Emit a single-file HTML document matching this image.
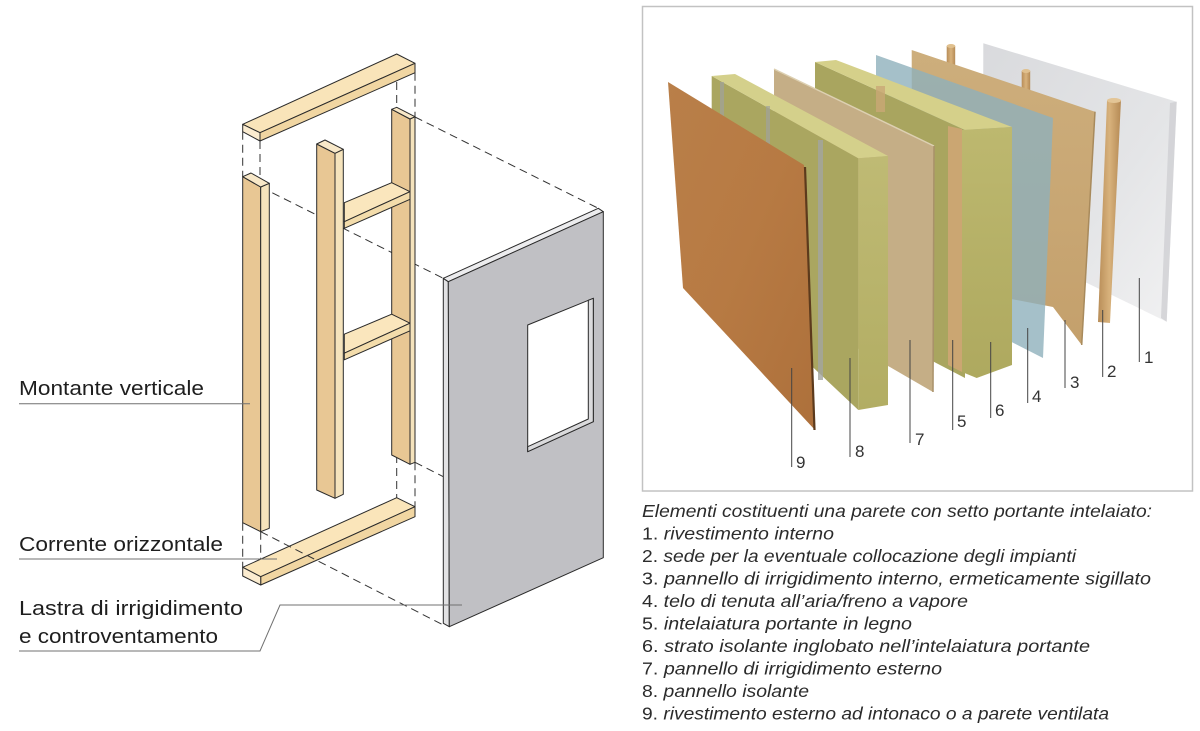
<!DOCTYPE html>
<html>
<head>
<meta charset="utf-8">
<style>
html,body{margin:0;padding:0;background:#fff;}
svg{display:block;}
</style>
</head>
<body>
<svg width="1200" height="731" viewBox="0 0 1200 731" xmlns="http://www.w3.org/2000/svg">
<defs>
<linearGradient id="brown" x1="0" y1="0" x2="1" y2="1">
<stop offset="0" stop-color="#b97f49"/>
<stop offset="0.5" stop-color="#b77a43"/>
<stop offset="1" stop-color="#ad703b"/>
</linearGradient>
<linearGradient id="ins8" x1="0" y1="0" x2="0" y2="1">
<stop offset="0" stop-color="#bfba74"/>
<stop offset="1" stop-color="#b2ad63"/>
</linearGradient>
<linearGradient id="ins6" x1="0" y1="0" x2="0" y2="1">
<stop offset="0" stop-color="#bdb86f"/>
<stop offset="1" stop-color="#aea95f"/>
</linearGradient>
<linearGradient id="gyp" x1="0" y1="0" x2="1" y2="1">
<stop offset="0" stop-color="#d9dadd"/>
<stop offset="0.6" stop-color="#e4e5e7"/>
<stop offset="1" stop-color="#f1f1f2"/>
</linearGradient>
<linearGradient id="osb3" x1="0" y1="0" x2="0" y2="1">
<stop offset="0" stop-color="#cdae7c"/>
<stop offset="1" stop-color="#c4a06c"/>
</linearGradient>
<linearGradient id="post" x1="0" y1="0" x2="1" y2="0">
<stop offset="0" stop-color="#b88d58"/>
<stop offset="0.5" stop-color="#d8b27c"/>
<stop offset="1" stop-color="#b58a55"/>
</linearGradient>
</defs>
<rect width="1200" height="731" fill="#fff"/>

<!-- ================= LEFT DIAGRAM ================= -->
<!-- dashed construction lines (behind) -->
<g stroke="#333" stroke-width="1" stroke-dasharray="8 5" fill="none">
<line x1="242.7" y1="131.7" x2="242.7" y2="176.7"/>
<line x1="260" y1="141" x2="260" y2="187"/>
<line x1="396.7" y1="56" x2="396.7" y2="107.3"/>
<line x1="415" y1="72.7" x2="415" y2="116.7"/>
<line x1="415" y1="117" x2="598.3" y2="208.3"/>
<line x1="260.7" y1="187" x2="443.3" y2="278.3"/>
<line x1="396.7" y1="455" x2="396.7" y2="497.7"/>
<line x1="415" y1="462.3" x2="415" y2="506.7"/>
<line x1="415" y1="462.3" x2="443.3" y2="476.7"/>
<line x1="242.7" y1="522.7" x2="242.7" y2="567.3"/>
<line x1="260.7" y1="531.7" x2="260.7" y2="576.7"/>
</g>

<g stroke="#2a2a2a" stroke-width="1" stroke-linejoin="round">
<!-- top plate -->
<polygon points="242.7,124.3 396.7,54 415,63.3 260,132.7" fill="#f9e4b9"/>
<polygon points="260,132.7 415,63.3 415,72.7 260,141" fill="#f1d6a2"/>
<polygon points="242.7,124.3 260,132.7 260,141 242.7,131.7" fill="#fbecd0"/>

<!-- left stud -->
<polygon points="242.7,176.7 260.7,187 260.7,531.7 242.7,522.7" fill="#e8c794"/>
<polygon points="260.7,187 269.3,183.3 269.3,528.3 260.7,531.7" fill="#f5e3bc"/>
<polygon points="242.7,176.7 251,173 269.3,183.3 260.7,187" fill="#f8e8c8"/>

<!-- right stud -->
<polygon points="391.7,109.3 410,119 410,464.3 391.7,455" fill="#e8c794"/>
<polygon points="410,119 415,116.7 415,462.3 410,464.3" fill="#f5e3bc"/>
<polygon points="391.7,109.3 396.7,107.3 415,116.7 410,119" fill="#f8e8c8"/>

<!-- crossbars -->
<polygon points="344.3,202.7 391.7,182.7 410,191.7 344.3,221.7" fill="#fae6bd"/>
<polygon points="344.3,221.7 410,191.7 410,199.3 344.3,228.3" fill="#f3dcab"/>
<polygon points="344.3,334.2 391.7,314.2 410,323.2 344.3,353.2" fill="#fae6bd"/>
<polygon points="344.3,353.2 410,323.2 410,330.8 344.3,359.8" fill="#f3dcab"/>

<!-- middle stud -->
<polygon points="316.7,144 335,153.3 335,498.3 316.7,490" fill="#e8c794"/>
<polygon points="335,153.3 343.3,149.3 343.3,494.3 335,498.3" fill="#f5e3bc"/>
<polygon points="316.7,144 325,140 343.3,149.3 335,153.3" fill="#f8e8c8"/>

<!-- bottom plate -->
<polygon points="242.7,567.3 396.7,497.7 415,506.7 260.7,576.7" fill="#fae5ba"/>
<polygon points="260.7,576.7 415,506.7 415,516.7 260.7,585" fill="#f1d6a2"/>
<polygon points="242.7,567.3 260.7,576.7 260.7,585 242.7,576" fill="#fbecd0"/>
</g>

<line x1="260.7" y1="531.7" x2="443.3" y2="625" stroke="#333" stroke-width="1" stroke-dasharray="8 5"/>

<!-- panel -->
<g stroke="#2a2a2a" stroke-width="1" stroke-linejoin="round">
<polygon points="443.3,278.3 448.3,281.7 449.3,626.7 443.3,623.3" fill="#e2e2e4"/>
<polygon points="443.3,278.3 598.3,208.3 603.3,211.7 448.3,281.7" fill="#ececee"/>
<polygon points="448.3,281.7 603.3,211.7 603.3,557.7 449.3,626.7" fill="#c0c0c4"/>
<polygon points="527.7,325 593.3,298.3 593.3,421.7 527.7,451.7" fill="#ffffff"/>
<polygon points="527.7,446.7 588.3,419 588.3,300.3 593.3,298.3 593.3,421.7 527.7,451.7" fill="#dadadc"/>
</g>

<!-- leader lines -->
<g stroke="#707070" stroke-width="1" fill="none">
<line x1="19" y1="403.7" x2="250" y2="403.7"/>
<line x1="19" y1="559" x2="277" y2="559"/>
<polyline points="19,651 260,651 280,605 462,605"/>
</g>

<g font-family="'Liberation Sans', sans-serif" font-size="20" fill="#1e1e1e">
<text x="19" y="395" textLength="185" lengthAdjust="spacingAndGlyphs">Montante verticale</text>
<text x="19" y="551" textLength="204" lengthAdjust="spacingAndGlyphs">Corrente orizzontale</text>
<text x="19" y="615" textLength="224" lengthAdjust="spacingAndGlyphs">Lastra di irrigidimento</text>
<text x="19" y="643" textLength="199" lengthAdjust="spacingAndGlyphs">e controventamento</text>
</g>

<!-- ================= RIGHT PHOTO ================= -->
<rect x="642.5" y="6.5" width="550" height="484.5" fill="#fff" stroke="#c2c2c2" stroke-width="1.5"/>

<!-- layer 1 gypsum -->
<polygon points="983.3,43.3 1176.7,101.7 1166.7,321.7 1087,283 983,250" fill="url(#gyp)"/>
<polygon points="1170,103 1176.7,101.7 1166.7,321.7 1161,318" fill="#cfd0d3" opacity="0.8"/>

<!-- dowels -->
<rect x="946.7" y="46" width="8.5" height="22" fill="url(#post)"/>
<ellipse cx="951" cy="46" rx="4.3" ry="2" fill="#e0c08e"/>
<rect x="1021.7" y="71" width="8.5" height="22" fill="url(#post)"/>
<ellipse cx="1026" cy="71" rx="4.3" ry="2" fill="#e0c08e"/>

<!-- layer 2 post -->
<polygon points="1107,101 1121,100 1110,323 1098,322" fill="url(#post)"/>
<ellipse cx="1114" cy="100.5" rx="7" ry="2.5" fill="#e3c596"/>

<!-- layer 3 OSB -->
<polygon points="911.7,50 1095,111.7 1081.7,345 1053,307 912,280" fill="url(#osb3)"/>
<line x1="1095" y1="111.7" x2="1081.7" y2="345" stroke="#a88a5c" stroke-width="1.5"/>

<!-- layer 4 membrane -->
<polygon points="876,55 1053,118 1043,358 876,273" fill="#8fb0bb" opacity="0.8"/>

<!-- layer 6 insulation slab + stud 5 -->
<polygon points="815,62 965,130 965,378 815,300" fill="#a9a55f"/>
<polygon points="815,62 836,60 1012,127 965,130" fill="#d5d08a"/>
<polygon points="962,130 1012,127 1012,365 976.7,378 962,372" fill="url(#ins6)"/>
<polygon points="948,126 962,129 962,372 948,365" fill="#cba672"/>
<rect x="876" y="86" width="9" height="26" fill="#c9a876" opacity="0.8"/>

<!-- layer 7 OSB external -->
<polygon points="774,69 934,146 933,392 774,300" fill="#c5ae86"/>
<line x1="774" y1="69" x2="934" y2="146" stroke="#ddd0b2" stroke-width="1.5"/>
<line x1="934" y1="146" x2="933" y2="392" stroke="#a9916a" stroke-width="1.5"/>

<!-- layer 8 insulation slab -->
<polygon points="711.7,76 858.3,158.3 858.3,410 711.7,272" fill="#aaa660"/>
<polygon points="711.7,76 735,74 888,156 858.3,158.3" fill="#d4d08b"/>
<polygon points="858.3,158.3 888,156 888,405 858.3,410" fill="url(#ins8)"/>
<rect x="720" y="82" width="4" height="60" fill="#9fa39d" opacity="0.7"/>
<rect x="766" y="106" width="4" height="60" fill="#9fa39d" opacity="0.7"/>
<rect x="818" y="140" width="5" height="240" fill="#a2a5a0" opacity="0.8"/>

<!-- layer 9 brown -->
<polygon points="668,82 804,165 815,430 683,288" fill="url(#brown)"/>
<line x1="805" y1="167" x2="814.5" y2="430" stroke="#5c3a1c" stroke-width="2.2"/>

<!-- leader lines & numbers -->
<g stroke="#444" stroke-width="1">
<line x1="1139.3" y1="278" x2="1139.3" y2="362"/>
<line x1="1102.7" y1="310" x2="1102.7" y2="377"/>
<line x1="1065" y1="320" x2="1065" y2="388"/>
<line x1="1027.7" y1="328" x2="1027.7" y2="403"/>
<line x1="990.7" y1="342" x2="990.7" y2="418"/>
<line x1="952.7" y1="340" x2="952.7" y2="430"/>
<line x1="910" y1="340" x2="910" y2="443"/>
<line x1="850" y1="358" x2="850" y2="457"/>
<line x1="791.7" y1="368" x2="791.7" y2="467"/>
</g>
<g font-family="'Liberation Sans', sans-serif" font-size="17" fill="#333">
<text x="1144" y="363">1</text>
<text x="1107" y="377">2</text>
<text x="1070" y="388">3</text>
<text x="1032" y="402">4</text>
<text x="957" y="427">5</text>
<text x="995" y="416">6</text>
<text x="915" y="445">7</text>
<text x="855" y="457">8</text>
<text x="796" y="468">9</text>
</g>

<!-- legend -->
<g font-family="'Liberation Sans', sans-serif" font-size="17.5" fill="#2b2b2b" font-style="italic">
<text x="642" y="517" textLength="510" lengthAdjust="spacingAndGlyphs">Elementi costituenti una parete con setto portante intelaiato:</text>
<text x="642" y="539.5" textLength="192" lengthAdjust="spacingAndGlyphs"><tspan font-style="normal">1. </tspan>rivestimento interno</text>
<text x="642" y="562" textLength="434" lengthAdjust="spacingAndGlyphs"><tspan font-style="normal">2. </tspan>sede per la eventuale collocazione degli impianti</text>
<text x="642" y="584.5" textLength="509" lengthAdjust="spacingAndGlyphs"><tspan font-style="normal">3. </tspan>pannello di irrigidimento interno, ermeticamente sigillato</text>
<text x="642" y="607" textLength="326" lengthAdjust="spacingAndGlyphs"><tspan font-style="normal">4. </tspan>telo di tenuta all’aria/freno a vapore</text>
<text x="642" y="629.5" textLength="270" lengthAdjust="spacingAndGlyphs"><tspan font-style="normal">5. </tspan>intelaiatura portante in legno</text>
<text x="642" y="652" textLength="448" lengthAdjust="spacingAndGlyphs"><tspan font-style="normal">6. </tspan>strato isolante inglobato nell’intelaiatura portante</text>
<text x="642" y="674.5" textLength="300" lengthAdjust="spacingAndGlyphs"><tspan font-style="normal">7. </tspan>pannello di irrigidimento esterno</text>
<text x="642" y="697" textLength="167" lengthAdjust="spacingAndGlyphs"><tspan font-style="normal">8. </tspan>pannello isolante</text>
<text x="642" y="719.5" textLength="467" lengthAdjust="spacingAndGlyphs"><tspan font-style="normal">9. </tspan>rivestimento esterno ad intonaco o a parete ventilata</text>
</g>
</svg>
</body>
</html>
